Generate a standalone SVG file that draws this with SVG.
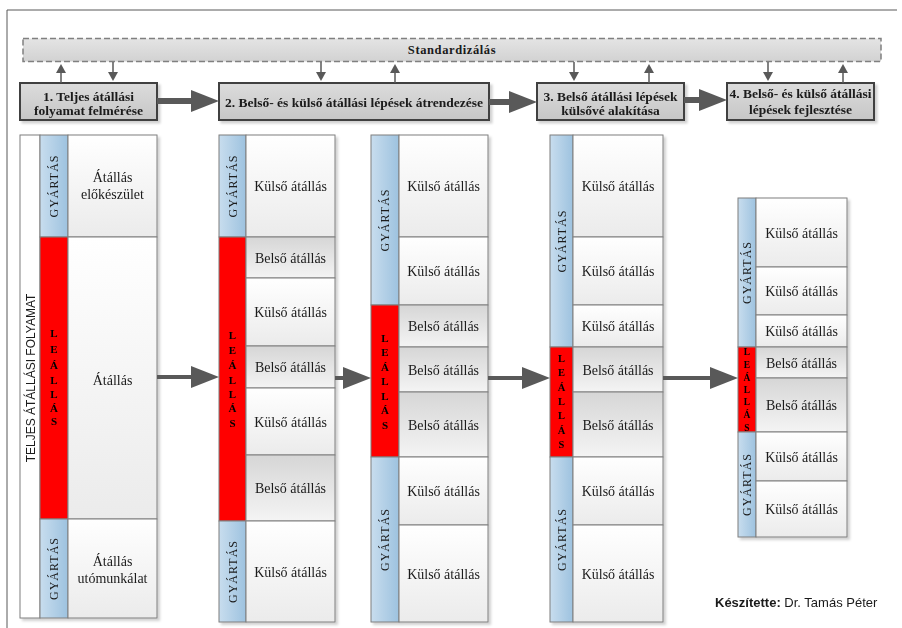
<svg xmlns="http://www.w3.org/2000/svg" width="902" height="628" viewBox="0 0 902 628">
<defs>
<linearGradient id="gK" x1="0" y1="0" x2="0" y2="1"><stop offset="0" stop-color="#ffffff"/><stop offset="1" stop-color="#ebebeb"/></linearGradient>
<linearGradient id="gB" x1="0" y1="0" x2="0" y2="1"><stop offset="0" stop-color="#d6d6d6"/><stop offset="1" stop-color="#f4f4f4"/></linearGradient>
<linearGradient id="gBlue" x1="0" y1="0" x2="1" y2="0"><stop offset="0" stop-color="#c8ddee"/><stop offset="1" stop-color="#9dc2df"/></linearGradient>
<linearGradient id="gStep" x1="0" y1="0" x2="0" y2="1"><stop offset="0" stop-color="#dcdcdc"/><stop offset="1" stop-color="#c6c6c6"/></linearGradient>
<linearGradient id="gStd" x1="0" y1="0" x2="0" y2="1"><stop offset="0" stop-color="#e4e4e4"/><stop offset="1" stop-color="#d2d2d2"/></linearGradient>
<filter id="sh" x="-10%" y="-10%" width="130%" height="130%"><feDropShadow dx="2.5" dy="2.5" stdDeviation="1.2" flood-color="#000" flood-opacity="0.18"/></filter>
<marker id="big" markerUnits="userSpaceOnUse" markerWidth="30" markerHeight="22" refX="4" refY="11" orient="auto"><path d="M0,0 L28,11 L0,22 Z" fill="#595959"/></marker>
<marker id="small" markerUnits="userSpaceOnUse" markerWidth="12" markerHeight="12" refX="1" refY="5" orient="auto"><path d="M0,0 L9,5 L0,10 Z" fill="#595959"/></marker>
</defs>
<style>
.cell-k{fill:url(#gK);stroke:#7f7f7f;stroke-width:1}
.cell-b{fill:url(#gB);stroke:#7f7f7f;stroke-width:1}
.strip-g{fill:url(#gBlue);stroke:#7f7f7f;stroke-width:1}
.strip-r{fill:#ff0000;stroke:#7f7f7f;stroke-width:1}
.t{font-family:"Liberation Serif",serif;font-size:14px;text-anchor:middle;fill:#1a1a1a}
.gy{font-family:"Liberation Serif",serif;font-size:12px;letter-spacing:1px;text-anchor:middle;fill:#1a1a1a}
.le{font-family:"Liberation Serif",serif;font-weight:bold;font-size:11px;text-anchor:middle;fill:#000}
.step{fill:url(#gStep);stroke:#404040;stroke-width:2}
.st{font-family:"Liberation Serif",serif;font-weight:bold;font-size:13.5px;text-anchor:middle;fill:#1a1a1a}
.bigline{stroke:#595959;fill:none}
.sm{stroke:#595959;stroke-width:1.5;fill:none;marker-end:url(#small)}
</style>
<rect width="902" height="628" fill="#ffffff"/>
<polyline points="7,628 7,10 897,10" fill="none" stroke="#595959" stroke-width="1"/>

<g id="standardizalas">
<rect x="23" y="38.5" width="858" height="23" fill="url(#gStd)" stroke="#808080" stroke-width="1.5" stroke-dasharray="6,3"/>
<text x="452" y="54" class="st" style="font-size:12.5px;letter-spacing:0.6px">Standardizálás</text>
</g>

<g id="step1" filter="url(#sh)">
<rect class="step" x="20" y="83" width="137" height="37"/>
<text class="st" x="88.5" y="101">1. Teljes átállási</text>
<text class="st" x="88.5" y="115">folyamat felmérése</text>
</g>
<g id="step2" filter="url(#sh)">
<rect class="step" x="219" y="83" width="270" height="37"/>
<text class="st" x="354" y="107">2. Belső- és külső átállási lépések átrendezése</text>
</g>
<g id="step3" filter="url(#sh)">
<rect class="step" x="537" y="83" width="147" height="37"/>
<text class="st" x="610.5" y="101">3. Belső átállási lépések</text>
<text class="st" x="610.5" y="115">külsővé alakítása</text>
</g>
<g id="step4" filter="url(#sh)">
<rect class="step" x="727" y="83" width="147" height="37"/>
<text class="st" x="800.5" y="98">4. Belső- és külső átállási</text>
<text class="st" x="800.5" y="114">lépések fejlesztése</text>
</g>

<g id="col1" filter="url(#sh)">
<rect x="20" y="135" width="20" height="483" fill="#ffffff" stroke="#7f7f7f"/>
<text transform="translate(34.5,378) rotate(-90)" style="font-family:'Liberation Sans',sans-serif;font-size:12px;text-anchor:middle;fill:#1a1a1a">TELJES ÁTÁLLÁSI FOLYAMAT</text>
<g id="c1-s1"><rect class="strip-g" x="40" y="135" width="28" height="102"/><text class="gy" transform="translate(58,186) rotate(-90)">GYÁRTÁS</text></g>
<g id="c1-s2"><rect class="strip-r" x="40" y="237" width="28" height="282"/>
<text class="le"><tspan x="54" y="337">L</tspan><tspan x="54" y="353">E</tspan><tspan x="54" y="369">Á</tspan><tspan x="54" y="384">L</tspan><tspan x="54" y="398">L</tspan><tspan x="54" y="412">Á</tspan><tspan x="54" y="425">S</tspan></text></g>
<g id="c1-s3"><rect class="strip-g" x="40" y="519" width="28" height="99"/><text class="gy" transform="translate(58,568.5) rotate(-90)">GYÁRTÁS</text></g>
<g id="c1-b1"><rect class="cell-k" x="68" y="135" width="89" height="102"/><text class="t" x="112.5" y="182">Átállás</text><text class="t" x="112.5" y="199">előkészület</text></g>
<g id="c1-b2"><rect class="cell-k" x="68" y="237" width="89" height="282"/><text class="t" x="112.5" y="385">Átállás</text></g>
<g id="c1-b3"><rect class="cell-k" x="68" y="519" width="89" height="99"/><text class="t" x="112.5" y="566">Átállás</text><text class="t" x="112.5" y="583">utómunkálat</text></g>
</g>

<g id="col2" filter="url(#sh)">
<g id="c2-s1"><rect class="strip-g" x="219" y="135" width="27" height="102"/><text class="gy" transform="translate(236.5,186) rotate(-90)">GYÁRTÁS</text></g>
<g id="c2-s2"><rect class="strip-r" x="219" y="237" width="27" height="284"/>
<text class="le"><tspan x="232.5" y="339">L</tspan><tspan x="232.5" y="354">E</tspan><tspan x="232.5" y="369">Á</tspan><tspan x="232.5" y="384">L</tspan><tspan x="232.5" y="398">L</tspan><tspan x="232.5" y="412">Á</tspan><tspan x="232.5" y="427">S</tspan></text></g>
<g id="c2-s3"><rect class="strip-g" x="219" y="521" width="27" height="101"/><text class="gy" transform="translate(236.5,571.5) rotate(-90)">GYÁRTÁS</text></g>
<g id="c2-b1"><rect class="cell-k" x="246" y="135" width="89" height="102"/><text class="t" x="290.5" y="191">Külső átállás</text></g>
<g id="c2-b2"><rect class="cell-b" x="246" y="237" width="89" height="41"/><text class="t" x="290.5" y="262.5">Belső átállás</text></g>
<g id="c2-b3"><rect class="cell-k" x="246" y="278" width="89" height="68"/><text class="t" x="290.5" y="317">Külső átállás</text></g>
<g id="c2-b4"><rect class="cell-b" x="246" y="346" width="89" height="42"/><text class="t" x="290.5" y="372">Belső átállás</text></g>
<g id="c2-b5"><rect class="cell-k" x="246" y="388" width="89" height="67"/><text class="t" x="290.5" y="426.5">Külső átállás</text></g>
<g id="c2-b6"><rect class="cell-b" x="246" y="455" width="89" height="66"/><text class="t" x="290.5" y="493">Belső átállás</text></g>
<g id="c2-b7"><rect class="cell-k" x="246" y="521" width="89" height="101"/><text class="t" x="290.5" y="576.5">Külső átállás</text></g>
</g>

<g id="col3" filter="url(#sh)">
<g id="c3-s1"><rect class="strip-g" x="371" y="135" width="28" height="170"/><text class="gy" transform="translate(389,220) rotate(-90)">GYÁRTÁS</text></g>
<g id="c3-s2"><rect class="strip-r" x="371" y="305" width="28" height="152"/>
<text class="le"><tspan x="385" y="341.5">L</tspan><tspan x="385" y="356">E</tspan><tspan x="385" y="370.5">Á</tspan><tspan x="385" y="385">L</tspan><tspan x="385" y="399.5">L</tspan><tspan x="385" y="414">Á</tspan><tspan x="385" y="428.5">S</tspan></text></g>
<g id="c3-s3"><rect class="strip-g" x="371" y="457" width="28" height="165"/><text class="gy" transform="translate(389,539.5) rotate(-90)">GYÁRTÁS</text></g>
<g id="c3-b1"><rect class="cell-k" x="399" y="135" width="89" height="102"/><text class="t" x="443.5" y="191">Külső átállás</text></g>
<g id="c3-b2"><rect class="cell-k" x="399" y="237" width="89" height="68"/><text class="t" x="443.5" y="276">Külső átállás</text></g>
<g id="c3-b3"><rect class="cell-b" x="399" y="305" width="89" height="42"/><text class="t" x="443.5" y="331">Belső átállás</text></g>
<g id="c3-b4"><rect class="cell-b" x="399" y="347" width="89" height="45"/><text class="t" x="443.5" y="374.5">Belső átállás</text></g>
<g id="c3-b5"><rect class="cell-b" x="399" y="392" width="89" height="65"/><text class="t" x="443.5" y="429.5">Belső átállás</text></g>
<g id="c3-b6"><rect class="cell-k" x="399" y="457" width="89" height="68"/><text class="t" x="443.5" y="496">Külső átállás</text></g>
<g id="c3-b7"><rect class="cell-k" x="399" y="525" width="89" height="97"/><text class="t" x="443.5" y="578.5">Külső átállás</text></g>
</g>

<g id="col4" filter="url(#sh)">
<g id="c4-s1"><rect class="strip-g" x="550" y="135" width="23" height="212"/><text class="gy" transform="translate(565.5,241) rotate(-90)">GYÁRTÁS</text></g>
<g id="c4-s2"><rect class="strip-r" x="550" y="347" width="23" height="110"/>
<text class="le" style="font-size:10.5px"><tspan x="561.5" y="362">L</tspan><tspan x="561.5" y="376">E</tspan><tspan x="561.5" y="391">Á</tspan><tspan x="561.5" y="405">L</tspan><tspan x="561.5" y="419">L</tspan><tspan x="561.5" y="434">Á</tspan><tspan x="561.5" y="448">S</tspan></text></g>
<g id="c4-s3"><rect class="strip-g" x="550" y="457" width="23" height="165"/><text class="gy" transform="translate(565.5,539.5) rotate(-90)">GYÁRTÁS</text></g>
<g id="c4-b1"><rect class="cell-k" x="573" y="135" width="90" height="102"/><text class="t" x="618" y="191">Külső átállás</text></g>
<g id="c4-b2"><rect class="cell-k" x="573" y="237" width="90" height="68"/><text class="t" x="618" y="276">Külső átállás</text></g>
<g id="c4-b3"><rect class="cell-k" x="573" y="305" width="90" height="42"/><text class="t" x="618" y="331">Külső átállás</text></g>
<g id="c4-b4"><rect class="cell-b" x="573" y="347" width="90" height="45"/><text class="t" x="618" y="374.5">Belső átállás</text></g>
<g id="c4-b5"><rect class="cell-b" x="573" y="392" width="90" height="65"/><text class="t" x="618" y="429.5">Belső átállás</text></g>
<g id="c4-b6"><rect class="cell-k" x="573" y="457" width="90" height="68"/><text class="t" x="618" y="496">Külső átállás</text></g>
<g id="c4-b7"><rect class="cell-k" x="573" y="525" width="90" height="97"/><text class="t" x="618" y="578.5">Külső átállás</text></g>
</g>

<g id="col5" filter="url(#sh)">
<g id="c5-s1"><rect class="strip-g" x="738" y="198" width="18" height="149"/><text class="gy" transform="translate(751,272.5) rotate(-90)">GYÁRTÁS</text></g>
<g id="c5-s2"><rect class="strip-r" x="738" y="347" width="18" height="85"/>
<text class="le" style="font-size:9.5px"><tspan x="747" y="355">L</tspan><tspan x="747" y="368">E</tspan><tspan x="747" y="381">Á</tspan><tspan x="747" y="393">L</tspan><tspan x="747" y="405">L</tspan><tspan x="747" y="418">Á</tspan><tspan x="747" y="430.5">S</tspan></text></g>
<g id="c5-s3"><rect class="strip-g" x="738" y="432" width="18" height="105"/><text class="gy" transform="translate(751,484.5) rotate(-90)">GYÁRTÁS</text></g>
<g id="c5-b1"><rect class="cell-k" x="756" y="198" width="91" height="69"/><text class="t" x="801.5" y="237.5">Külső átállás</text></g>
<g id="c5-b2"><rect class="cell-k" x="756" y="267" width="91" height="48"/><text class="t" x="801.5" y="296">Külső átállás</text></g>
<g id="c5-b3"><rect class="cell-k" x="756" y="315" width="91" height="32"/><text class="t" x="801.5" y="336">Külső átállás</text></g>
<g id="c5-b4"><rect class="cell-b" x="756" y="347" width="91" height="31"/><text class="t" x="801.5" y="367.5">Belső átállás</text></g>
<g id="c5-b5"><rect class="cell-b" x="756" y="378" width="91" height="54"/><text class="t" x="801.5" y="410">Belső átállás</text></g>
<g id="c5-b6"><rect class="cell-k" x="756" y="432" width="91" height="49"/><text class="t" x="801.5" y="461.5">Külső átállás</text></g>
<g id="c5-b7"><rect class="cell-k" x="756" y="481" width="91" height="56"/><text class="t" x="801.5" y="514">Külső átállás</text></g>
</g>

<g id="connectors">
<line class="bigline" x1="157" y1="101" x2="195" y2="101" stroke-width="6" marker-end="url(#big)"/>
<line class="bigline" x1="489" y1="102" x2="513" y2="102" stroke-width="6" marker-end="url(#big)"/>
<line class="bigline" x1="684" y1="100" x2="703" y2="100" stroke-width="6" marker-end="url(#big)"/>
<line class="bigline" x1="157" y1="377" x2="195" y2="377" stroke-width="4" marker-end="url(#big)"/>
<line class="bigline" x1="335" y1="378" x2="347" y2="378" stroke-width="4" marker-end="url(#big)"/>
<line class="bigline" x1="488" y1="378" x2="526" y2="378" stroke-width="4" marker-end="url(#big)"/>
<line class="bigline" x1="663" y1="378" x2="714" y2="378" stroke-width="4" marker-end="url(#big)"/>
<line class="sm" x1="61" y1="83" x2="61" y2="72"/>
<line class="sm" x1="113" y1="62" x2="113" y2="73"/>
<line class="sm" x1="321" y1="62" x2="321" y2="73"/>
<line class="sm" x1="395" y1="83" x2="395" y2="72"/>
<line class="sm" x1="574" y1="62" x2="574" y2="73"/>
<line class="sm" x1="649" y1="83" x2="649" y2="72"/>
<line class="sm" x1="768" y1="62" x2="768" y2="73"/>
<line class="sm" x1="843" y1="83" x2="843" y2="72"/>
</g>

<text x="715" y="607" style="font-family:'Liberation Sans',sans-serif;font-size:13px;fill:#1a1a1a"><tspan font-weight="bold">Készítette:</tspan> Dr. Tamás Péter</text>
</svg>
